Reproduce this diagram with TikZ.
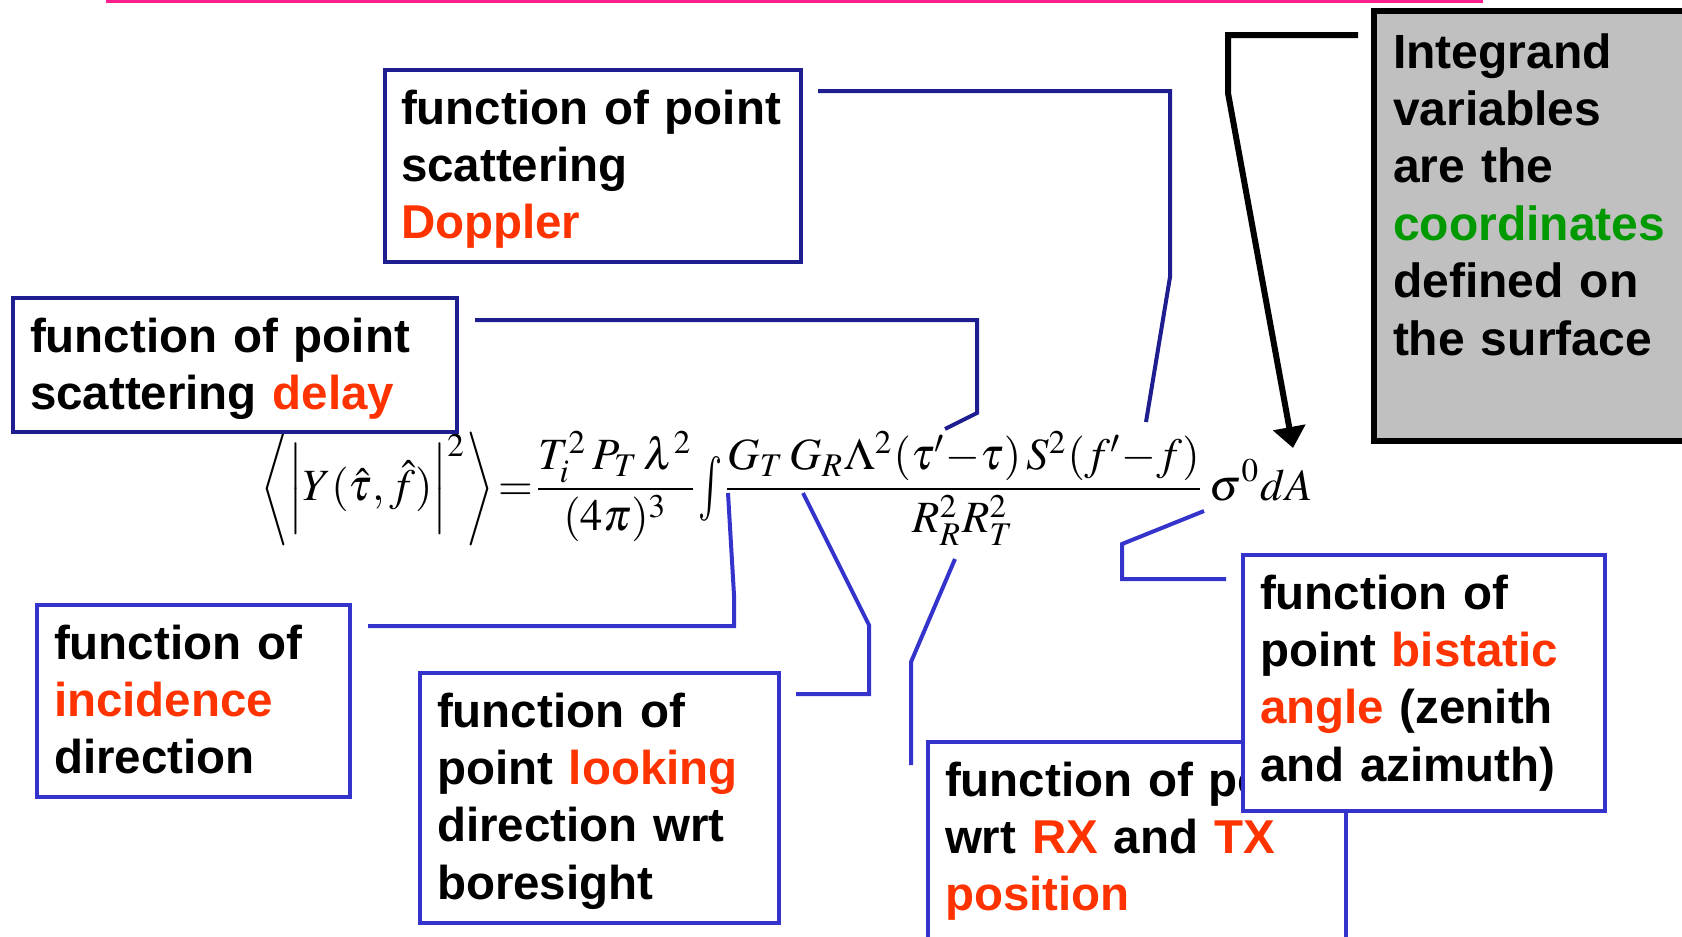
\documentclass[tikz,border=0pt]{standalone}
\usepackage{mathptmx}
\usepackage[no-math]{fontspec}
\setmainfont{Liberation Sans}
\usepackage{graphicx}
\usepackage{tikz}
\usetikzlibrary{positioning,arrows.meta}
\definecolor{navy}{HTML}{1E1E90}
\definecolor{bblue}{HTML}{3434CC}
\definecolor{hot}{HTML}{FF3300}
\definecolor{grn}{HTML}{009900}
\definecolor{pnk}{HTML}{FF1F8F}
\definecolor{gbox}{HTML}{C0C0C0}
\tikzset{
  box/.style={draw=bblue, line width=4pt, fill=white, anchor=north west, align=left,
              inner xsep=17pt, inner ysep=6pt, text height=48pt,
              font=\fontsize{47.5pt}{57.4pt}\selectfont\bfseries},
  topbox/.style={box, draw=navy},
  note/.style={box, draw=black, line width=6pt, fill=gbox, inner xsep=19pt, text height=51pt,
               font=\fontsize{48pt}{57.4pt}\selectfont\bfseries},
  conn/.style={draw=bblue, line width=4pt},
  topconn/.style={conn, draw=navy},
}
\newcommand{\hot}[1]{\textcolor{hot}{#1}}
\newcommand{\squash}[3]{\vcenter{\hbox{\scalebox{#1}[#2]{$\displaystyle#3$}}}}

\begin{document}
\begin{tikzpicture}[x=1pt,y=-1pt]
  \useasboundingbox (0,0) rectangle (1682,937);
  \fill[pnk] (106,0) rectangle (1483,3);

  % the radar equation
  \node[anchor=base west, inner sep=0pt] (eq) at (261,500) {\scalebox{4.47}{$\displaystyle
    \squash{0.75}{0.85}{\Biggl\langle}\squash{1}{0.84}{\biggl|} Y(\hat{\tau},\hat{f})
    \squash{1}{0.84}{\biggr|}^{2}\squash{0.75}{0.85}{\Biggr\rangle}
    \,{=}\frac{T_i^{2}\,P_T\,\lambda^{2}}{(4\pi)^{3}}
    \squash{0.9}{1.45}{\textstyle\int}\frac{G_T\,G_R\Lambda^{2}(\tau'{-}\tau)\,S^{2}(f'{-}f)}{R_R^{2}R_T^{2}}\,\sigma^{0}dA$}};

  % callout boxes
  \node[topbox, inner xsep=16pt, text width=384pt, text depth=132pt] (dop) at (383,68)
    {function of point\\scattering\\\hot{Doppler}};
  \node[topbox, text width=410pt, text depth=74pt] (dly) at (11,296)
    {function of point\\scattering \hot{delay}};
  \node[box, text width=279pt, text depth=132pt] (inc) at (35,603)
    {function of\\\hot{incidence}\\direction};
  \node[box, text width=325pt, text depth=190pt] (look) at (418,671)
    {function of\\point \hot{looking}\\direction wrt\\boresight};
  \node[box, text width=384pt, text depth=220pt] (pos) at (926,740)
    {function of point\\wrt \hot{RX} and \hot{TX}\\\hot{position}};
  \node[box, text width=328pt, text depth=196pt] (bis) at (1241,553)
    {function of\\point \hot{bistatic}\\\hot{angle} (zenith\\and azimuth)};
  \node[note, text width=300pt, text depth=367pt] (var) at (1371,8)
    {Integrand\\variables\\are the\\\textcolor{grn}{coordinates}\\defined on\\the surface};

  % ends of the leader lines
  \coordinate (dopK) at (1170,277);  \coordinate (dopE) at (1146,422);
  \coordinate (dlyK) at (977,413);   \coordinate (dlyE) at (945,429);
  \coordinate (incK) at (734,595);   \coordinate (incE) at (728,493);
  \coordinate (lookK) at (869,625);  \coordinate (lookE) at (803,493);
  \coordinate (posK) at (911,662);   \coordinate (posE) at (955,559);
  \coordinate (bisK) at (1122,544);  \coordinate (bisE) at (1204,511);
  \coordinate (varK) at (1228,93);   \coordinate (varE) at (1293,448);

  \draw[topconn] ([xshift=15pt,yshift=-23pt]dop.north east) -| (dopK) -- (dopE);
  \draw[topconn] ([xshift=16pt,yshift=-24pt]dly.north east) -| (dlyK) -- (dlyE);
  \draw[conn] ([xshift=16pt,yshift=-23pt]inc.north east) -| (incK) -- (incE);
  \draw[conn] ([xshift=15pt,yshift=-23pt]look.north east) -| (lookK) -- (lookE);
  \draw[conn] ([xshift=-15pt,yshift=-25pt]pos.north west) -- (posK) -- (posE);
  \draw[conn] ([xshift=-15pt,yshift=-26pt]bis.north west) -| (bisK) -- (bisE);
  \draw[line width=6pt, -{Triangle[length=21pt 0 0, width=32pt 0 0]}]
    ([xshift=-13pt,yshift=-27pt]var.north west) -| (varK) -- (varE);
\end{tikzpicture}
\end{document}
